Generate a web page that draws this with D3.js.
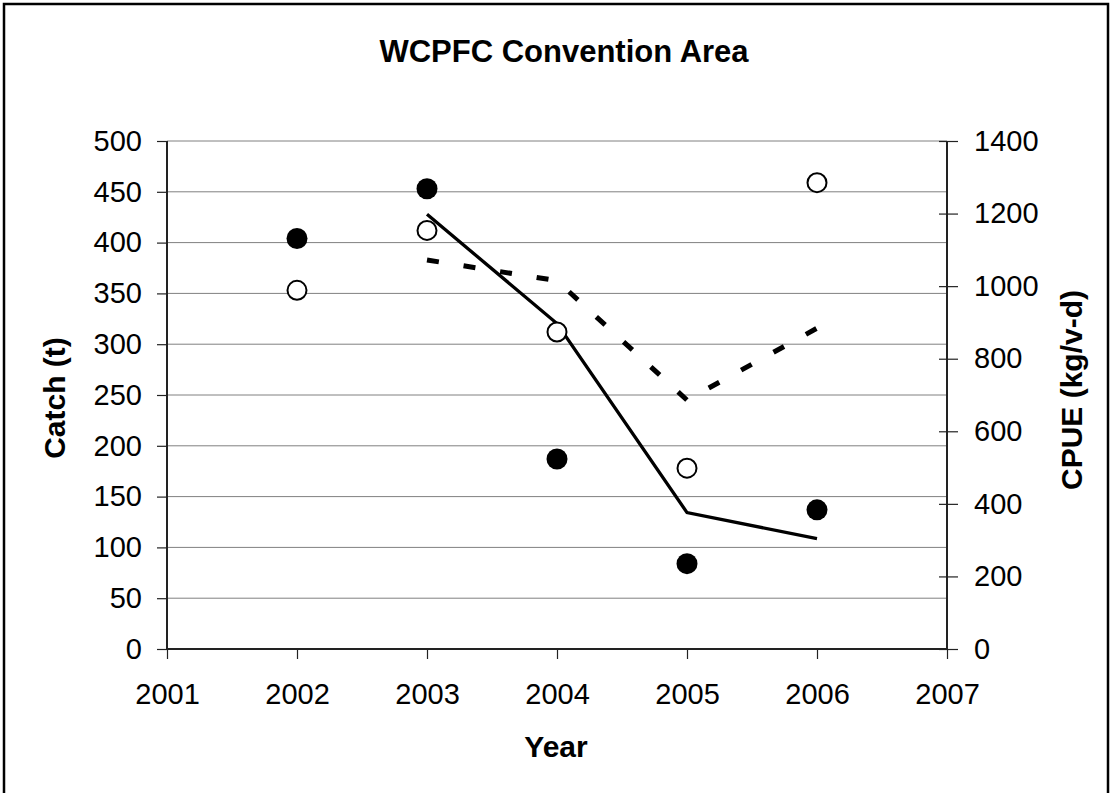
<!DOCTYPE html>
<html><head><meta charset="utf-8">
<script src="https://cdn.jsdelivr.net/npm/d3@7"></script>
<style>body{margin:0;background:#fff}svg{display:block}text{font-family:"Liberation Sans",Arial,sans-serif}</style>
</head><body><svg id="c" width="1112" height="793"></svg>
<script>
const years = [2002, 2003, 2004, 2005, 2006];
const catchFilled = [404, 453, 187, 84, 137];
const catchOpen = [353, 412, 312, 178, 459];
const lineYears = [2003, 2004, 2005, 2006];
const cpueSolid = [1198, 897, 376, 304];
const cpueDashed = [1072, 1015, 686, 884];
const xTicks = [2001, 2002, 2003, 2004, 2005, 2006, 2007];
const leftTicks = [0, 50, 100, 150, 200, 250, 300, 350, 400, 450, 500];
const rightTicks = [0, 200, 400, 600, 800, 1000, 1200, 1400];

const svg = d3.select("#c");
const L = 167, R = 947, T = 141, B = 649;
const x = d3.scaleLinear().domain([2001, 2007]).range([L, R]);
const yL = d3.scaleLinear().domain([0, 500]).range([B, T]);
const yR = d3.scaleLinear().domain([0, 1400]).range([B, T]);

svg.append("rect").attr("x", 4).attr("y", 4).attr("width", 1104).attr("height", 820)
  .attr("fill", "none").attr("stroke", "#000").attr("stroke-width", 2.5);

// gridlines
svg.append("g").selectAll("line").data(leftTicks.filter(d => d > 0)).join("line")
  .attr("x1", L).attr("x2", R).attr("y1", d => yL(d)).attr("y2", d => yL(d))
  .attr("stroke", "#808080").attr("stroke-width", 1);

const tickFont = "29px";
// left axis
const gl = svg.append("g").attr("transform", `translate(${L},0)`)
  .call(d3.axisLeft(yL).tickValues(leftTicks).tickSize(10).tickPadding(15));
gl.selectAll("text").style("font-size", tickFont).attr("fill", "#000");
// right axis
const gr = svg.append("g").attr("transform", `translate(${R},0)`)
  .call(d3.axisRight(yR).tickValues(rightTicks).tickFormat(d3.format("d")).tickSize(11).tickPadding(16));
gr.selectAll(".tick line").attr("x1", -8);
gr.selectAll("text").style("font-size", tickFont).attr("fill", "#000");
// bottom axis
const gb = svg.append("g").attr("transform", `translate(0,${B})`)
  .call(d3.axisBottom(x).tickValues(xTicks).tickFormat(d3.format("d")).tickSize(10).tickPadding(24));
gb.selectAll("text").style("font-size", tickFont).attr("fill", "#000");
[gl, gr, gb].forEach(g => {
  g.select(".domain").attr("stroke", "#222").attr("stroke-width", 2);
  g.selectAll(".tick line").attr("stroke", "#222").attr("stroke-width", 1.2);
});
gb.select(".domain").attr("d", `M${L},0H${R}`);
gl.select(".domain").attr("d", `M0,${B}V${T}`);
gr.select(".domain").attr("d", `M0,${B}V${T}`);

// lines
const lineGen = d3.line().x((d, i) => x(lineYears[i])).y(d => yR(d));
svg.append("path").datum(cpueSolid).attr("d", lineGen)
  .attr("fill", "none").attr("stroke", "#000").attr("stroke-width", 3.3);
svg.append("path").datum(cpueDashed).attr("d", lineGen)
  .attr("fill", "none").attr("stroke", "#000").attr("stroke-width", 5)
  .attr("stroke-dasharray", "12,25");

// points
svg.append("g").selectAll("circle").data(catchOpen).join("circle")
  .attr("cx", (d, i) => x(years[i])).attr("cy", d => yL(d)).attr("r", 9.5)
  .attr("fill", "#fff").attr("stroke", "#000").attr("stroke-width", 2);
svg.append("g").selectAll("circle").data(catchFilled).join("circle")
  .attr("cx", (d, i) => x(years[i])).attr("cy", d => yL(d)).attr("r", 10.5)
  .attr("fill", "#000");

// titles
svg.append("text").attr("x", 564).attr("y", 62).attr("text-anchor", "middle")
  .style("font-size", "31px").style("font-weight", "bold").text("WCPFC Convention Area");
svg.append("text").attr("x", 556).attr("y", 757).attr("text-anchor", "middle")
  .style("font-size", "30px").style("font-weight", "bold").text("Year");
svg.append("text").attr("transform", "translate(65,398) rotate(-90)").attr("text-anchor", "middle")
  .style("font-size", "30px").style("font-weight", "bold").text("Catch (t)");
svg.append("text").attr("transform", "translate(1082,390) rotate(-90)").attr("text-anchor", "middle")
  .style("font-size", "30px").style("font-weight", "bold").text("CPUE (kg/v-d)");
</script></body></html>
